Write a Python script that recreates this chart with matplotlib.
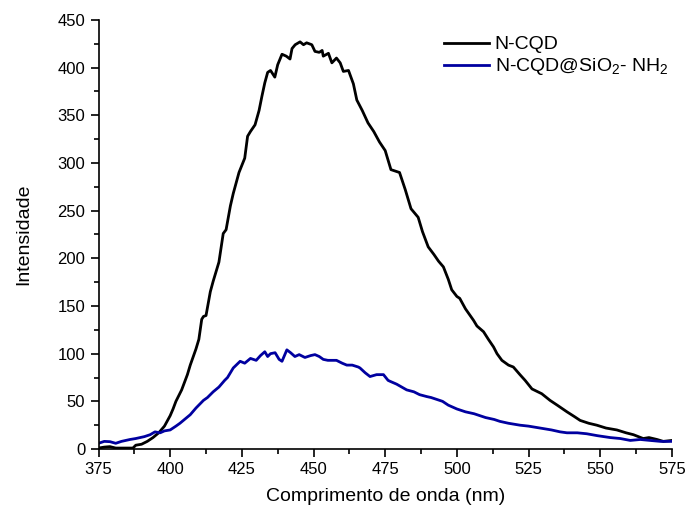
import matplotlib
matplotlib.use("Agg")
import matplotlib.pyplot as plt
from matplotlib.ticker import MultipleLocator

plt.rcParams['font.family'] = ['Liberation Sans', 'DejaVu Sans']
plt.rcParams['mathtext.fontset'] = 'custom'
plt.rcParams['mathtext.rm'] = 'Liberation Sans'
plt.rcParams['mathtext.it'] = 'Liberation Sans'

# N-CQD
wl_ncqd = [375, 377, 379, 381, 383, 385, 387, 388, 390, 392, 394, 396, 398, 400, 401, 402, 404, 406,
           407, 409, 410, 411, 411.6, 412.5, 414, 415, 417, 418.5, 419.5, 421, 422, 424, 426, 427,
           428, 429.6, 431, 432, 433, 434, 435, 436.5, 437.5, 439, 440.5, 441.8, 442.5, 443.6, 445.3,
           446.5, 447.6, 449.4, 450.5, 452, 453, 453.4, 455.2, 456.4, 458, 459.3, 460.4, 462.2, 463.9,
           465.1, 467, 469, 471, 473, 475, 477, 480, 482, 484, 486.5, 488, 490, 492, 493.6, 495.3,
           497, 498.2, 500, 501, 503, 505.8, 507, 509.3, 511, 512.8, 514, 515.7, 518, 519.7, 522,
           523.8, 526.2, 529.6, 532.5, 535, 538.4, 541, 543, 546, 548.8, 552, 555.8, 559, 561.6,
           565, 567, 569.8, 572, 575]
int_ncqd = [1, 2, 2.5, 1, 1, 1, 1, 4, 5, 8, 12, 17, 24, 35, 42, 50, 62, 78,
            88, 105, 115, 136, 139, 140, 165, 176, 196, 226, 230, 255, 268, 290, 305, 328,
            333, 340, 355, 370, 384, 395, 397, 390, 403, 414, 412, 409, 420, 424, 427,
            424, 426, 424, 417, 416, 418, 412, 415, 405, 410, 405, 396, 397, 383,
            366, 355, 342, 333, 322, 313, 293, 290, 272, 252, 243, 228, 212, 204, 197, 191,
            178, 167, 160, 158, 147, 135, 129, 123, 115, 107, 100, 93, 88, 86, 78,
            72, 63, 58, 51, 46, 39, 34, 30, 27, 25, 22, 20, 17, 15,
            11, 12, 10, 8, 9]

# N-CQD@SiO2-NH2
wl_si = [375, 377, 379, 381, 383, 386, 388, 389.5, 391, 393, 394.7, 396.5, 398, 400, 402, 403.4, 405,
         407, 409, 411.6, 413, 415, 417, 419, 420, 422, 424.4, 426, 428, 430, 431.5, 433, 434, 435,
         436.6, 438, 439, 440.7, 442, 443.5, 445, 447, 449, 450.5, 452, 453.4, 455, 458, 460,
         461.6, 463.5, 465.6, 466.2, 468, 469.7, 472, 474.4, 476, 476.7, 479, 482.5, 485, 487,
         489.5, 491, 493, 495, 497, 500, 503, 506, 510, 513, 515, 518, 522, 525, 529, 533, 536,
         538.4, 542, 545.3, 549, 553.5, 557, 560.5, 564, 567.4, 571, 575]
int_si = [6, 8, 7.7, 6, 8, 10, 11, 12, 13, 15, 18, 17, 19, 20, 24, 27, 31,
          36, 43, 51, 54, 60, 65, 72, 75, 85, 92, 90, 95, 93, 98, 102, 97, 100,
          101, 94, 92, 104, 101, 97, 99, 96, 98, 99, 97, 94, 93, 93, 90,
          88, 88, 86, 85, 80, 76, 78, 78, 72, 71, 68, 62, 60, 57,
          55, 54, 52, 50, 46, 42, 39, 37, 33, 31, 29, 27, 25, 24, 22, 20, 18,
          17, 17, 16, 14, 12, 11, 9, 10, 9, 8, 8]

fig = plt.figure(figsize=(6.87, 5.11), dpi=100)
ax = fig.add_axes([0.1434, 0.1213, 0.8346, 0.8397])
ax.plot(wl_ncqd, int_ncqd, color='black', lw=2.0, label='N-CQD')
ax.plot(wl_si, int_si, color='#0000A0', lw=2.0, label='N-CQD@SiO$_2$- NH$_2$')

ax.set_xlim(375, 575)
ax.set_ylim(0, 450)
ax.xaxis.set_major_locator(MultipleLocator(25))
ax.xaxis.set_minor_locator(MultipleLocator(12.5))
ax.yaxis.set_major_locator(MultipleLocator(50))
ax.yaxis.set_minor_locator(MultipleLocator(25))
for s in ['top', 'right']:
    ax.spines[s].set_visible(False)
for s in ['left', 'bottom']:
    ax.spines[s].set_linewidth(1.2)
ax.tick_params(which='major', direction='out', length=6, width=1.2, labelsize=12)
ax.tick_params(which='minor', direction='out', length=3.5, width=1.2)
ax.set_xlabel('Comprimento de onda (nm)', fontsize=14, labelpad=8)
ax.set_ylabel('Intensidade', fontsize=14, labelpad=18)
ax.legend(loc='upper right', bbox_to_anchor=(1.014, 0.99), frameon=False, fontsize=14,
          handlelength=2.3, handletextpad=0.3, labelspacing=0.15, borderaxespad=0.2)

fig.savefig('out.png', dpi=100)
